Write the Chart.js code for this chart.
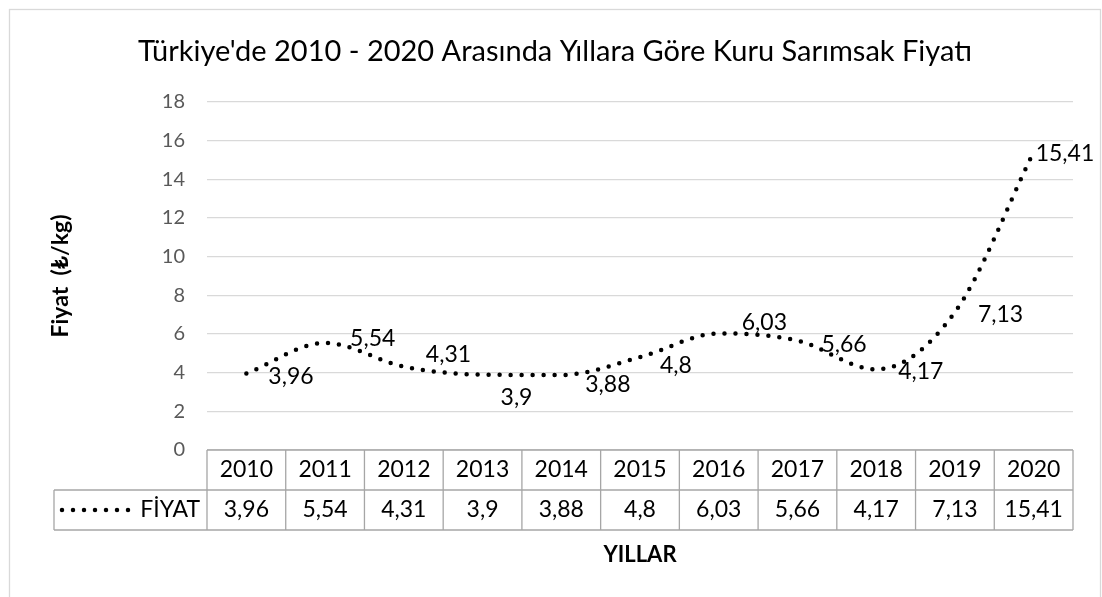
<!DOCTYPE html>
<html>
<head>
<meta charset="utf-8">
<script src="https://cdn.jsdelivr.net/npm/chart.js@4/dist/chart.umd.min.js"></script>
<style>
  html, body { margin: 0; padding: 0; background: #fff; }
  canvas { display: block; }
</style>
</head>
<body>
<canvas id="fiyatChart" width="1102" height="597"></canvas>
<script>
// Veriler - yıllara göre kuru sarımsak fiyatı (₺/kg)
const years = ['2010', '2011', '2012', '2013', '2014', '2015', '2016', '2017', '2018', '2019', '2020'];
const prices = [3.96, 5.54, 4.31, 3.9, 3.88, 4.8, 6.03, 5.66, 4.17, 7.13, 15.41];
const seriesName = 'FİYAT';
const yMin = 0, yMax = 18, yStep = 2;

// Etiket kaydırmaları (Excel'de elle taşınmış gibi)
const labelDx = [22, 25, 22, 18, 24, 20, 23, 24, 22, 23, 2];
const labelDy = [2, -5, -13, 22, 9, 7, -12, 3, 1, 2, 1];

const FONT = 'Lato';
const fmt = v => String(v).replace('.', ',');

// Çerçeve + başlık + eksen adı
const framePlugin = {
    id: 'frame',
    beforeDraw(chart) {
        const ctx = chart.ctx;
        ctx.save();
        ctx.fillStyle = '#fff';
        ctx.fillRect(0, 0, chart.width, chart.height);
        ctx.strokeStyle = '#d9d9d9';
        ctx.lineWidth = 1.3;
        ctx.strokeRect(9.5, 9.5, 1091, 620);
        ctx.restore();
    },
    afterDraw(chart) {
        const ctx = chart.ctx;
        ctx.save();
        ctx.fillStyle = '#000';
        ctx.textAlign = 'center';
        ctx.textBaseline = 'alphabetic';
        ctx.font = `29px ${FONT}`;
        ctx.fillText("Türkiye'de 2010 - 2020 Arasında Yıllara Göre Kuru Sarımsak Fiyatı", 555, 61);
        ctx.font = `bold 22px ${FONT}`;
        ctx.fillText('YILLAR', 640, 562);
        ctx.restore();
    }
};

// Grafik altındaki veri tablosu
const tablePlugin = {
    id: 'dataTable',
    afterDraw(chart) {
        const { ctx, chartArea: a, scales: { x } } = chart;
        const n = years.length;
        const w = (a.right - a.left) / n;
        const rowH = 40;
        const top = a.bottom, mid = top + rowH, bot = top + 2 * rowH;
        const keyLeft = 54;

        ctx.save();
        ctx.strokeStyle = '#a6a6a6';
        ctx.lineWidth = 1.3;
        ctx.beginPath();
        ctx.moveTo(a.left, top); ctx.lineTo(a.right, top);
        ctx.moveTo(keyLeft, mid); ctx.lineTo(a.right, mid);
        ctx.moveTo(keyLeft, bot); ctx.lineTo(a.right, bot);
        ctx.moveTo(keyLeft, mid); ctx.lineTo(keyLeft, bot);
        for (let i = 0; i <= n; i++) {
            const xx = a.left + i * w;
            ctx.moveTo(xx, top); ctx.lineTo(xx, bot);
        }
        ctx.stroke();

        ctx.fillStyle = '#000';
        ctx.font = `23px ${FONT}`;
        ctx.textAlign = 'center';
        ctx.textBaseline = 'middle';
        years.forEach((yr, i) => {
            const cx = x.getPixelForValue(i);
            ctx.fillText(yr, cx, top + rowH / 2);
            ctx.fillText(fmt(prices[i]), cx, mid + rowH / 2);
        });

        // seri anahtarı
        ctx.textAlign = 'right';
        ctx.fillText(seriesName, a.left - 7, mid + rowH / 2);
        ctx.strokeStyle = '#000';
        ctx.lineWidth = 4.5;
        ctx.lineCap = 'round';
        ctx.setLineDash([0, 11]);
        ctx.beginPath();
        ctx.moveTo(62, mid + rowH / 2);
        ctx.lineTo(129, mid + rowH / 2);
        ctx.stroke();
        ctx.restore();
    }
};

// Nokta etiketleri
const labelPlugin = {
    id: 'pointLabels',
    afterDatasetsDraw(chart) {
        const ctx = chart.ctx;
        const meta = chart.getDatasetMeta(0);
        ctx.save();
        ctx.fillStyle = '#000';
        ctx.font = `23px ${FONT}`;
        ctx.textAlign = 'left';
        ctx.textBaseline = 'alphabetic';
        meta.data.forEach((pt, i) => {
            ctx.fillText(fmt(prices[i]), pt.x + labelDx[i], pt.y + labelDy[i] + 8.3);
        });
        ctx.restore();
    }
};

new Chart(document.getElementById('fiyatChart'), {
    type: 'line',
    data: {
        labels: years,
        datasets: [{
            label: seriesName,
            data: prices,
            borderColor: '#000',
            borderWidth: 4.5,
            borderDash: [0, 11],
            borderCapStyle: 'round',
            pointRadius: 0,
            cubicInterpolationMode: 'monotone',
            fill: false
        }]
    },
    options: {
        responsive: false,
        animation: false,
        layout: { padding: { left: 10, top: 102, right: 29, bottom: 147 } },
        plugins: {
            legend: { display: false },
            tooltip: { enabled: false }
        },
        scales: {
            x: { display: false, offset: true },
            y: {
                min: yMin,
                max: yMax,
                ticks: { stepSize: yStep, color: '#595959', font: { family: FONT, size: 20 }, padding: 22 },
                grid: { color: '#d9d9d9', lineWidth: 1.3, drawTicks: false },
                border: { display: false },
                title: {
                    display: true,
                    text: 'Fiyat  (₺/kg)',
                    color: '#000',
                    font: { family: FONT, size: 23, weight: 'bold' },
                    padding: { top: 37, bottom: 0 }
                },
                afterFit(scale) { scale.width = 197; }
            }
        }
    },
    plugins: [framePlugin, tablePlugin, labelPlugin]
});
</script>
</body>
</html>
